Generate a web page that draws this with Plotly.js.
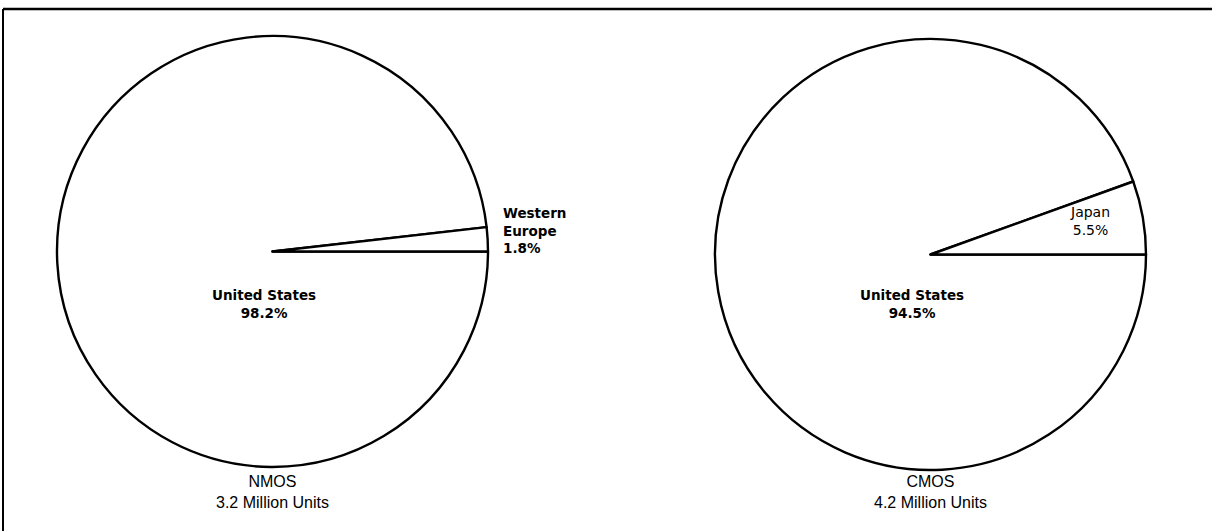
<!DOCTYPE html>
<html>
<head>
<meta charset="utf-8">
<script src="https://cdn.plot.ly/plotly-3.0.1.min.js"></script>
<style>
html,body{margin:0;padding:0;background:#fff;}
#chart{width:1212px;height:531px;}
</style>
</head>
<body>
<div id="chart"></div>
<script>
var nmosLabels = ["United States", "Western Europe"];
var nmosValues = [98.2, 1.8];
var cmosLabels = ["United States", "Japan"];
var cmosValues = [94.5, 5.5];
var pieNames = ["NMOS", "CMOS"];
var pieUnits = ["3.2 Million Units", "4.2 Million Units"];

var W = 1212, H = 531;
function px(x){return x/W;}
function py(y){return 1 - y/H;}

var common = {
  type: 'pie', sort: false, direction: 'counterclockwise', rotation: 90,
  textinfo: 'none', hoverinfo: 'label+percent', showlegend: false,
  marker: {colors: ['#ffffff', '#ffffff'], line: {color: '#000000', width: 2.4}}
};

var t1 = Object.assign({}, common, {
  labels: nmosLabels, values: nmosValues,
  domain: {x: [px(57), px(488)], y: [py(467), py(36)]}
});
var t2 = Object.assign({}, common, {
  labels: cmosLabels, values: cmosValues,
  domain: {x: [px(715), px(1146)], y: [py(470), py(39)]}
});

var boldFont = {family: 'DejaVu Sans, sans-serif', size: 13.5, color: '#000'};
var regFont = {family: 'DejaVu Sans, sans-serif', size: 14, color: '#000'};
var titleFont = {family: 'Liberation Sans, Arial, sans-serif', size: 16, color: '#000'};

function pct(v){ return v.toFixed(1) + '%'; }
var weParts = nmosLabels[1].split(' ');

var annotations = [
  {x: px(264), y: py(304), text: '<b>' + nmosLabels[0] + '<br>' + pct(nmosValues[0]) + '</b>', font: boldFont},
  {x: px(502), y: py(230), text: '<b>' + weParts[0] + '<br>' + weParts[1] + '<br>' + pct(nmosValues[1]) + '</b>', font: boldFont, xanchor: 'left', align: 'left'},
  {x: px(912), y: py(304), text: '<b>' + cmosLabels[0] + '<br>' + pct(cmosValues[0]) + '</b>', font: boldFont},
  {x: px(1090), y: py(221), text: cmosLabels[1] + '<br>' + pct(cmosValues[1]), font: regFont},
  {x: px(272), y: py(492), text: pieNames[0] + '<br>' + pieUnits[0], font: titleFont},
  {x: px(930), y: py(492), text: pieNames[1] + '<br>' + pieUnits[1], font: titleFont}
];
annotations.forEach(function(a){ a.xref='paper'; a.yref='paper'; a.showarrow=false; if(!a.xanchor) a.xanchor='center'; a.yanchor='middle'; a.borderpad=0; });

var layout = {
  width: W, height: H,
  margin: {l: 0, r: 0, t: 0, b: 0},
  paper_bgcolor: '#fff', plot_bgcolor: '#fff',
  annotations: annotations,
  shapes: [
    {type: 'line', xref: 'paper', yref: 'paper', x0: px(3), x1: 1.01, y0: py(9), y1: py(9), line: {color: '#000', width: 2.5}},
    {type: 'line', xref: 'paper', yref: 'paper', x0: px(3), x1: px(3), y0: py(9), y1: -0.01, line: {color: '#000', width: 2}}
  ]
};

Plotly.newPlot('chart', [t1, t2], layout, {displayModeBar: false, staticPlot: true});
</script>
</body>
</html>
